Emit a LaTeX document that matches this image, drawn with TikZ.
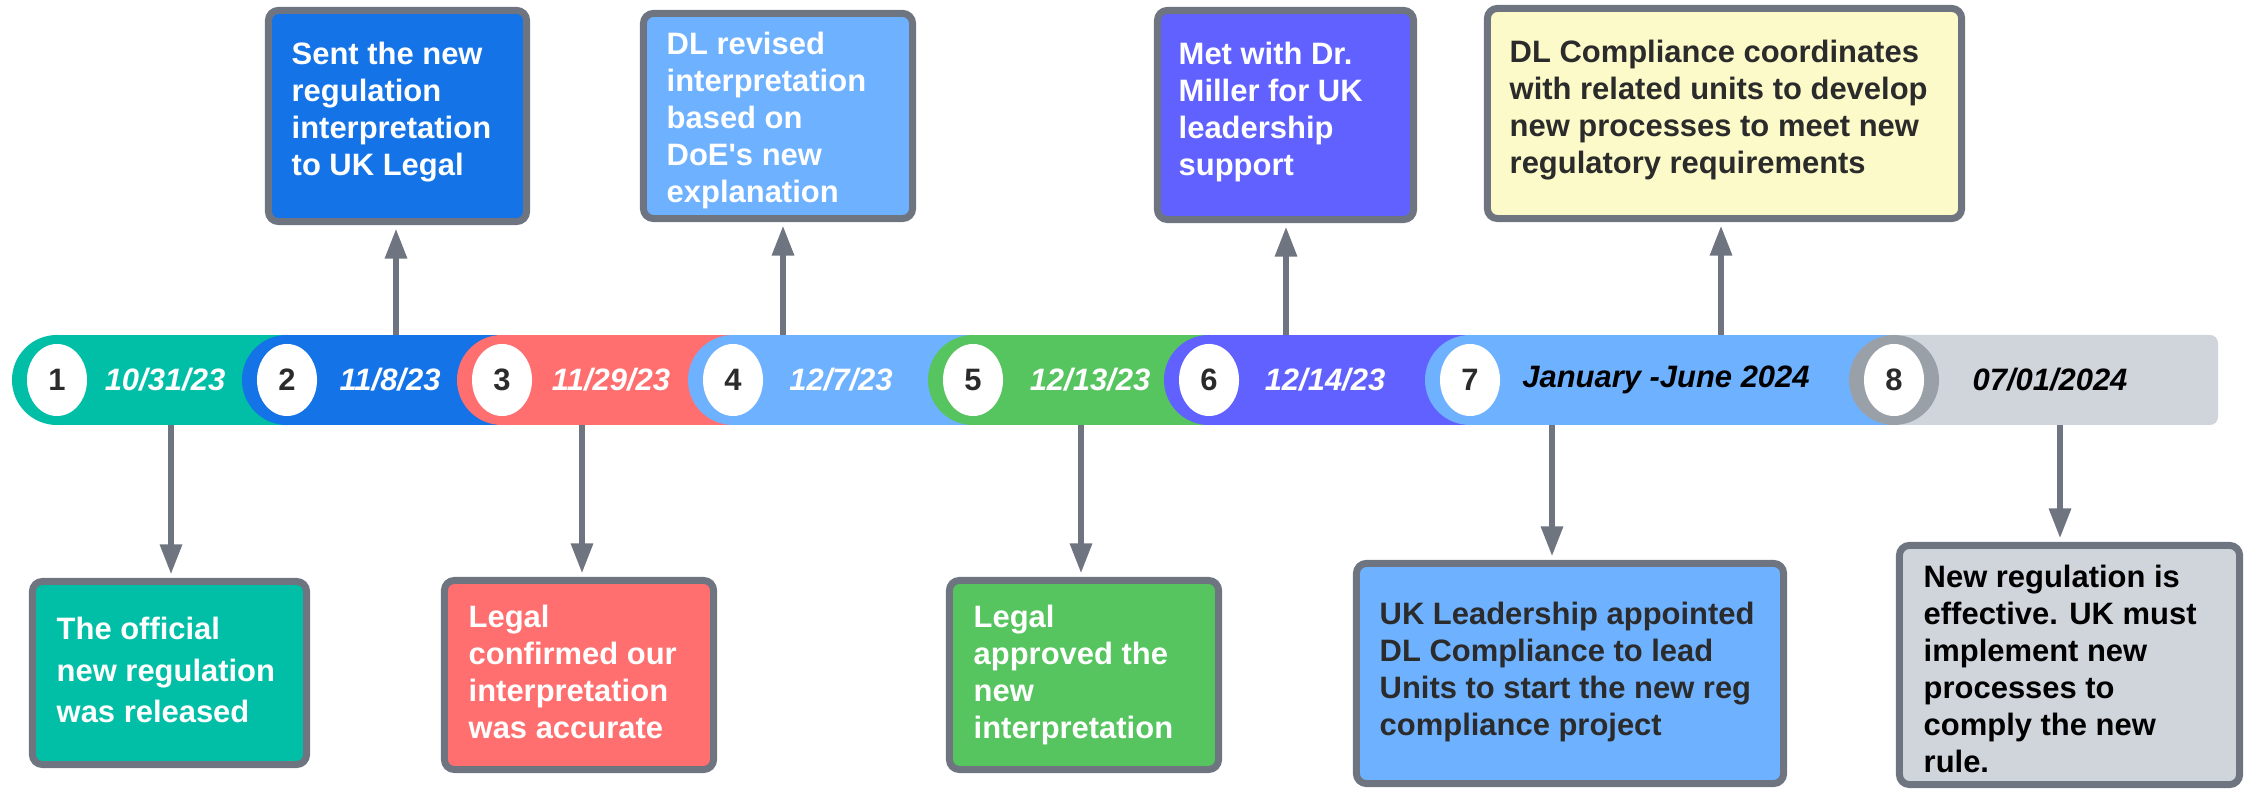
\documentclass[tikz,border=0pt]{standalone}
\usepackage{fontspec}
\setmainfont{Liberation Sans}
\usetikzlibrary{arrows.meta,shapes.geometric}

\definecolor{evteal}{HTML}{00BFA6}
\definecolor{evblue}{HTML}{1473E6}
\definecolor{evred}{HTML}{FF6F6F}
\definecolor{evsky}{HTML}{6EB1FF}
\definecolor{evgreen}{HTML}{56C45F}
\definecolor{evpurple}{HTML}{6161FF}
\definecolor{evgray}{HTML}{D0D5DC}
\definecolor{evring}{HTML}{9AA0A8}
\definecolor{evyellow}{HTML}{FBFAC8}
\definecolor{evframe}{HTML}{6E7480}
\definecolor{evink}{HTML}{2B2B2B}

%% lines of a box, first baseline on the node's base
\newcommand{\evlines}[1]{\begin{tabular}[t]{@{}l@{}}#1\end{tabular}}

\tikzset{
  evbox/.style={draw=evframe, line width=0.07cm, rounded corners=0.1cm, inner sep=0pt},
  evtext/.style={anchor=base west, inner sep=0pt, font=\bfseries\fontsize{8.8}{10.5}\selectfont},
  numdot/.style={ellipse, fill=white, minimum width=0.6cm, minimum height=0.72cm, inner sep=0pt,
    text=evink, font=\bfseries\fontsize{8.8}{10.5}\selectfont},
  datelbl/.style={inner sep=0pt, font=\bfseries\itshape\fontsize{8.8}{10.5}\selectfont},
  evarrow/.style={draw=evframe, line width=0.06cm, -{Triangle[width=0.21cm,length=0.3cm]}, shorten >=0.035cm}
}

\begin{document}
\begin{tikzpicture}[x=0.01cm, y=-0.01cm]
    \useasboundingbox (0,0) rectangle (2249,789);

    %% The bar: every piece starts with a round end round its number
    \foreach \c/\n/\col in {57/287/evteal, 287/502/evblue, 502/733/evred, 733/973/evsky,
                            973/1209/evgreen, 1209/1470/evpurple, 1470/1894/evsky}{
        \fill[\col] (\c,380) circle[radius=0.45cm];
        \fill[\col] (\c,335) rectangle (\n,425);
    }
    %% last piece is grey with a darker ring
    \fill[evgray, rounded corners=0.08cm] (1894,335) rectangle (2218,425);
    \fill[evring] (1894,380) circle[radius=0.45cm];

    %% numbers
    \foreach \x/\num in {57/1, 287/2, 502/3, 733/4, 973/5, 1209/6, 1470/7, 1894/8}
        \node[numdot] (n\num) at (\x,380) {\num};

    %% dates
    \node[datelbl, text=white] (d1) at (165,380) {10/31/23};
    \node[datelbl, text=white] (d2) at (390,380) {11/8/23};
    \node[datelbl, text=white] (d3) at (611,380) {11/29/23};
    \node[datelbl, text=white] (d4) at (841,380) {12/7/23};
    \node[datelbl, text=white] (d5) at (1090,380) {12/13/23};
    \node[datelbl, text=white] (d6) at (1325,380) {12/14/23};
    \node[datelbl, text=black] (d7) at (1666,380) {January -June 2024};
    \node[datelbl, text=black] (d8) at (2050,380) {07/01/2024};

    %% boxes above the bar
    \node[evbox, fill=evblue, minimum width=2.58cm, minimum height=2.11cm] (b2) at (397.5,116) {};
    \node[evbox, fill=evsky, minimum width=2.69cm, minimum height=2.05cm] (b4) at (778,116) {};
    \node[evbox, fill=evpurple, minimum width=2.56cm, minimum height=2.09cm] (b6) at (1285.5,115) {};
    \node[evbox, fill=evyellow, minimum width=4.74cm, minimum height=2.10cm] (b7) at (1724.5,113.5) {};

    %% boxes below the bar
    \node[evbox, fill=evteal, minimum width=2.74cm, minimum height=1.83cm] (b1) at (169.5,673) {};
    \node[evbox, fill=evred, minimum width=2.69cm, minimum height=1.89cm] (b3) at (579,675) {};
    \node[evbox, fill=evgreen, minimum width=2.69cm, minimum height=1.89cm] (b5) at (1084,675) {};
    \node[evbox, fill=evsky, minimum width=4.27cm, minimum height=2.20cm] (b7low) at (1570,673.5) {};
    \node[evbox, fill=evgray, minimum width=3.40cm, minimum height=2.39cm] (b8) at (2069.5,665) {};

    %% texts
    \node[evtext, text=white, font=\bfseries\fontsize{8.8}{11.8}\selectfont] (t1) at (56,640)
        {\evlines{The official\\new regulation\\was released}};
    \node[evtext, text=white] (t2) at (291,65)
        {\evlines{Sent the new\\regulation\\interpretation\\to UK Legal}};
    \node[evtext, text=white] (t3) at (468,628)
        {\evlines{Legal\\confirmed our\\interpretation\\was accurate}};
    \node[evtext, text=white] (t4) at (666,55)
        {\evlines{DL revised\\interpretation\\based on\\DoE\textquotesingle s new\\explanation}};
    \node[evtext, text=white] (t5) at (973,628)
        {\evlines{Legal\\approved the\\new\\interpretation}};
    \node[evtext, text=white] (t6) at (1178,65)
        {\evlines{Met with Dr.\\Miller for UK\\leadership\\support}};
    \node[evtext, text=evink] (t7) at (1509,63)
        {\evlines{DL Compliance coordinates\\with related units to develop\\new processes to meet new\\regulatory requirements}};
    \node[evtext, text=evink] (t7low) at (1379,625)
        {\evlines{UK Leadership appointed\\DL Compliance to lead\\Units to start the new reg\\compliance project}};
    \node[evtext, text=black] (t8) at (1923,588)
        {\evlines{New regulation is\\effective. UK must\\implement new\\processes to\\comply the new\\rule.}};

    %% arrows from the bar to the boxes
    \coordinate (s1) at (171,425);
    \coordinate (s2) at (396,335);
    \coordinate (s3) at (582,425);
    \coordinate (s4) at (783,335);
    \coordinate (s5) at (1081,425);
    \coordinate (s6) at (1286,335);
    \coordinate (s7) at (1721,335);
    \coordinate (s7low) at (1552,425);
    \coordinate (s8) at (2060,425);
    \draw[evarrow] (s1) -- (s1 |- b1.north);
    \draw[evarrow] (s2) -- (s2 |- b2.south);
    \draw[evarrow] (s3) -- (s3 |- b3.north);
    \draw[evarrow] (s4) -- (s4 |- b4.south);
    \draw[evarrow] (s5) -- (s5 |- b5.north);
    \draw[evarrow] (s6) -- (s6 |- b6.south);
    \draw[evarrow] (s7) -- (s7 |- b7.south);
    \draw[evarrow] (s7low) -- (s7low |- b7low.north);
    \draw[evarrow] (s8) -- (s8 |- b8.north);
\end{tikzpicture}
\end{document}
